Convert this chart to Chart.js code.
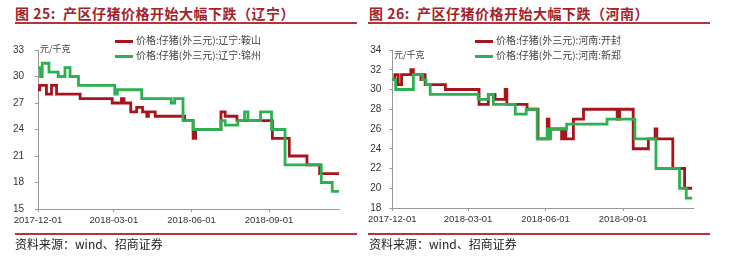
<!DOCTYPE html>
<html>
<head>
<meta charset="utf-8">
<script src="https://cdn.jsdelivr.net/npm/chart.js@4/dist/chart.umd.min.js"></script>
<style>
  body { margin: 0; width: 729px; height: 256px; position: relative; background: #fff; overflow: hidden;
         font-family: "Noto Sans CJK SC", sans-serif; }
  canvas { position: absolute; top: 0; }
  .title { position: absolute; top: 3px; font-size: 14px; font-weight: bold; color: #a3232a; white-space: nowrap; letter-spacing: 0.5px; }
  .rule { position: absolute; height: 2px; background: #b3343a; }
  .src { position: absolute; top: 235px; font-size: 12px; color: #222; white-space: nowrap; }
  .unit { position: absolute; font-size: 9px; color: #444; white-space: nowrap; }
  .legend { position: absolute; font-size: 10px; color: #444; line-height: 15px; white-space: nowrap; }
  .legend i { display: inline-block; width: 18px; height: 3px; vertical-align: middle; margin-right: 3px; }
</style>
</head>
<body>
<div class="title" style="left:15px">图 25:&nbsp; 产区仔猪价格开始大幅下跌（辽宁）</div>
<div class="rule" style="left:15px;width:342px;top:22px"></div>
<div class="title" style="left:369px">图 26:&nbsp; 产区仔猪价格开始大幅下跌（河南）</div>
<div class="rule" style="left:368px;width:342px;top:22px"></div>

<canvas id="lnChart" width="364" height="256" style="left:0"></canvas>
<canvas id="hnChart" width="364" height="256" style="left:365px"></canvas>

<div class="unit" style="left:40px;top:42px">元/千克</div>
<div class="unit" style="left:394px;top:48px">元/千克</div>
<div class="legend" id="lnLegend" style="left:115px;top:32px"></div>
<div class="legend" id="hnLegend" style="left:475px;top:32px"></div>

<div class="rule" style="left:15px;width:342px;top:233px;height:1.5px"></div>
<div class="src" style="left:15px">资料来源：wind、招商证券</div>
<div class="rule" style="left:368px;width:342px;top:233px;height:1.5px"></div>
<div class="src" style="left:369px">资料来源：wind、招商证券</div>

<script>
// x-axis tick labels (shared)
const tickDates = ["2017-12-01", "2018-03-01", "2018-06-01", "2018-09-01"];

// 辽宁 chart: y ticks 15..33 step 3
const lnTicks = [15, 18, 21, 24, 27, 30, 33];
const anshanDates = ["2017-12-01","2017-12-03","2017-12-11","2017-12-17","2017-12-23","2018-01-20","2018-02-27",
  "2018-03-10","2018-03-13","2018-03-21","2018-03-28","2018-04-04","2018-04-09","2018-04-11","2018-04-19",
  "2018-05-24","2018-06-03","2018-06-06","2018-07-06","2018-07-11","2018-07-25","2018-09-05","2018-09-25",
  "2018-10-16","2018-10-31","2018-11-23"];
const anshanPrices = [28.5, 29, 28, 29, 28, 27.5, 27, 27.5, 27, 26, 26.5, 26, 25.5, 26, 25.5,
  25, 23, 24, 26, 25.5, 25, 23, 21, 20, 19, 19];
const jinzhouDates = ["2017-12-01","2017-12-04","2017-12-06","2017-12-14","2017-12-25","2018-01-02","2018-01-08",
  "2018-01-18","2018-03-02","2018-03-05","2018-04-03","2018-05-08","2018-05-12","2018-05-22","2018-06-03",
  "2018-07-06","2018-07-11","2018-07-26","2018-08-03","2018-08-07","2018-08-22","2018-09-04","2018-09-20",
  "2018-11-02","2018-11-15","2018-11-23"];
const jinzhouPrices = [31, 30, 31.5, 30.5, 30, 31, 30, 29, 28, 28.5, 27.5, 27, 27.5, 25, 24,
  25, 24.5, 25, 26, 25, 26, 24, 20, 18, 17, 17];

// 河南 chart: y ticks 18..34 step 2
const hnTicks = [18, 20, 22, 24, 26, 28, 30, 32, 34];
const kaifengDates = ["2017-12-01","2017-12-04","2017-12-08","2017-12-12","2017-12-23","2017-12-26","2018-01-04",
  "2018-01-07","2018-01-09","2018-02-02","2018-03-14","2018-03-25","2018-04-02","2018-04-14","2018-04-16",
  "2018-05-10","2018-05-23","2018-06-03","2018-06-05","2018-06-20","2018-06-23","2018-06-25","2018-07-04",
  "2018-07-16","2018-08-25","2018-08-28","2018-09-13","2018-10-01","2018-10-09","2018-10-11","2018-10-30",
  "2018-11-13","2018-11-22"];
const kaifengPrices = [31, 31.5, 30.5, 31.5, 32, 31.5, 31, 31.5, 30.5, 30, 28.5, 29.5, 29, 30, 28.5,
  28, 25, 27, 26, 25, 26, 25, 27, 28, 27, 28, 24, 25, 26, 25, 22, 20, 20];
const xinzhengDates = ["2017-12-01","2017-12-05","2017-12-26","2018-01-06","2018-01-10","2018-01-15","2018-03-13",
  "2018-03-25","2018-03-31","2018-04-26","2018-05-09","2018-05-22","2018-06-03","2018-06-05","2018-06-07",
  "2018-06-26","2018-08-13","2018-09-15","2018-10-10","2018-11-07","2018-11-15","2018-11-22"];
const xinzhengPrices = [31, 30, 31.5, 31, 30.5, 29.5, 29, 29.5, 28.5, 27.5, 28, 25, 26, 25, 26,
  26.5, 27, 25, 22, 20, 19, 19];

const RED = "#a8141c", GREEN = "#2db04f";
const base = Date.UTC(2017, 11, 1);
const toDay = s => (Date.parse(s) - base) / 86400000;
const toDate = d => new Date(base + d * 86400000).toISOString().slice(0, 10);
const pts = (dates, vals) => dates.map((d, i) => ({ x: toDay(d), y: vals[i] }));

function makeChart(id, legendId, series, yTicks, yW, padR, xH, labelPad) {
  const chart = new Chart(document.getElementById(id), {
    type: "line",
    data: {
      datasets: series.map((s, i) => ({
        label: s.label,
        data: pts(s.dates, s.vals),
        borderColor: s.color,
        backgroundColor: s.color,
        borderWidth: 2.8,
        pointRadius: 0,
        stepped: true,
        order: series.length - i
      }))
    },
    options: {
      responsive: false,
      animation: false,
      layout: { padding: { top: 50, right: padR, left: 0, bottom: 0 } },
      plugins: { legend: { display: false }, tooltip: { enabled: false } },
      scales: {
        x: {
          type: "linear", min: 0, max: 357,
          afterBuildTicks: ax => { ax.ticks = tickDates.map(d => ({ value: toDay(d) })); },
          afterFit: sc => { sc.height = xH; },
          ticks: { callback: v => toDate(v), font: { size: 9.5, family: "Liberation Sans" }, color: "#333", padding: 3, maxRotation: 0 },
          grid: { drawOnChartArea: false, tickLength: 3, color: "#999" },
          border: { color: "#999" }
        },
        y: {
          min: yTicks[0], max: yTicks[yTicks.length - 1],
          afterBuildTicks: ax => { ax.ticks = yTicks.map(v => ({ value: v })); },
          afterFit: sc => { sc.width = yW; },
          ticks: { font: { size: 10, family: "Liberation Sans" }, color: "#333", padding: labelPad },
          grid: { drawOnChartArea: false, tickLength: 3, color: "#999" },
          border: { color: "#999" }
        }
      }
    }
  });
  document.getElementById(legendId).innerHTML = chart.data.datasets
    .map(ds => `<div><i style="background:${ds.borderColor}"></i>${ds.label}</div>`).join("");
  return chart;
}

makeChart("lnChart", "lnLegend", [
  { label: "价格:仔猪(外三元):辽宁:鞍山", dates: anshanDates, vals: anshanPrices, color: RED },
  { label: "价格:仔猪(外三元):辽宁:锦州", dates: jinzhouDates, vals: jinzhouPrices, color: GREEN }
], lnTicks, 38, 25, 47, 11);

makeChart("hnChart", "hnLegend", [
  { label: "价格:仔猪(外三元):河南:开封", dates: kaifengDates, vals: kaifengPrices, color: RED },
  { label: "价格:仔猪(外二元):河南:新郑", dates: xinzhengDates, vals: xinzhengPrices, color: GREEN }
], hnTicks, 26, 36, 48, 8);
</script>
</body>
</html>
